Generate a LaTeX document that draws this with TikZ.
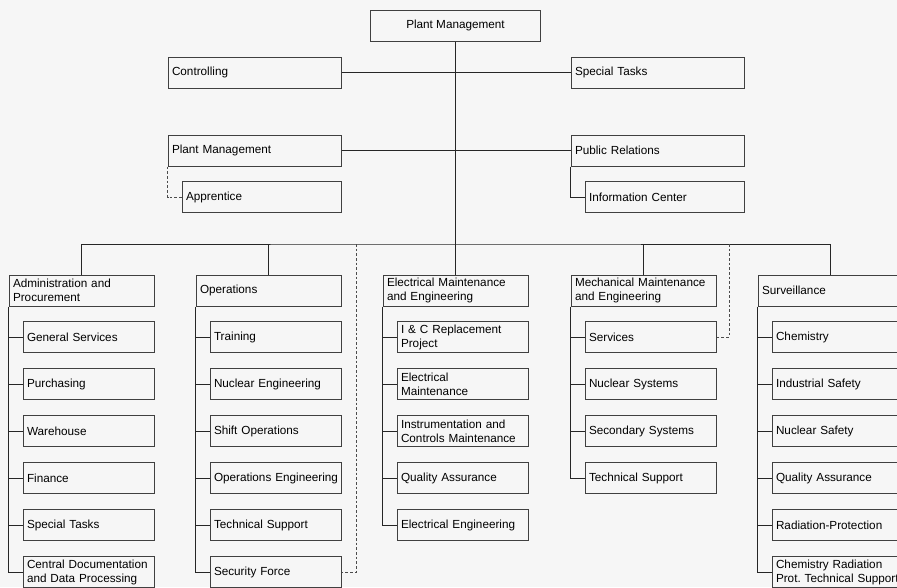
\documentclass[tikz,border=0pt]{standalone}
\usepackage{fontspec}
\setsansfont{Liberation Sans}
\definecolor{boxline}{RGB}{64,64,64}
\definecolor{canvas}{RGB}{246,246,246}

\begin{document}
\begin{tikzpicture}[x=0.75pt,y=-0.75pt,
  font=\sffamily\fontsize{8.8}{10.5}\selectfont,
  bx/.style={draw=boxline,fill=canvas,line width=0.75pt,minimum height=23.25pt,
             inner xsep=3pt,inner ysep=0pt,align=left},
  sd/.style={bx,text width=123.75pt},
  sb/.style={bx,text width=113.25pt},
  hd/.style={bx,text width=102.75pt},
  ch/.style={bx,text width=92.25pt},
  ln/.style={line width=0.75pt,draw=black!85},
  dl/.style={ln,draw=black!70,dash pattern=on 2pt off 1.5pt}]

\fill[canvas] (0,0) rectangle (897,587);
\useasboundingbox (0,0) rectangle (897,587);

% top level
\node[bx,minimum width=127.5pt,align=center] (top) at (455.5,25.5) {Plant Management};
\node[sd] (ctrl) at (254.5,72.5) {Controlling};
\node[sd] (spec) at (657.5,72.5) {Special Tasks};
\node[sd] (pm) at (254.5,150.5) {Plant Management};
\node[sd] (pr) at (657.5,150.5) {Public Relations};
\node[sb] (appr) at (261.5,197) {Apprentice};
\node[sb] (info) at (664.5,197) {Information Center};

% departments
\node[hd] (adm) at (81.5,290.5) {Administration and\\Procurement};
\node[hd] (ops) at (268.5,290.5) {Operations};
\node[hd] (ele) at (455.5,290.5) {Electrical Maintenance\\and Engineering};
\node[hd] (mec) at (643.5,290.5) {\mbox{Mechanical Maintenance}\\and Engineering};
\node[hd] (sur) at (830.5,290.5) {Surveillance};

\node[ch] (adm1) at (88.5,337) {General Services};
\node[ch] (adm2) at (88.5,384) {Purchasing};
\node[ch] (adm3) at (88.5,431) {Warehouse};
\node[ch] (adm4) at (88.5,478) {Finance};
\node[ch] (adm5) at (88.5,525) {Special Tasks};
\node[ch] (adm6) at (88.5,572) {\mbox{Central Documentation}\\and Data Processing};

\node[ch] (ops1) at (275.5,337) {Training};
\node[ch] (ops2) at (275.5,384) {Nuclear Engineering};
\node[ch] (ops3) at (275.5,431) {Shift Operations};
\node[ch] (ops4) at (275.5,478) {\mbox{Operations Engineering}};
\node[ch] (ops5) at (275.5,525) {Technical Support};
\node[ch] (ops6) at (275.5,572) {Security Force};

\node[ch] (ele1) at (462.5,337) {I \& C Replacement\\Project};
\node[ch] (ele2) at (462.5,384) {Electrical\\Maintenance};
\node[ch] (ele3) at (462.5,431) {Instrumentation and\\Controls Maintenance};
\node[ch] (ele4) at (462.5,478) {Quality Assurance};
\node[ch] (ele5) at (462.5,525) {Electrical Engineering};

\node[ch] (mec1) at (650.5,337) {Services};
\node[ch] (mec2) at (650.5,384) {Nuclear Systems};
\node[ch] (mec3) at (650.5,431) {Secondary Systems};
\node[ch] (mec4) at (650.5,478) {Technical Support};

\node[ch] (sur1) at (837.5,337) {Chemistry};
\node[ch] (sur2) at (837.5,384) {Industrial Safety};
\node[ch] (sur3) at (837.5,431) {Nuclear Safety};
\node[ch] (sur4) at (837.5,478) {Quality Assurance};
\node[ch] (sur5) at (837.5,525) {Radiation-Protection};
\node[ch] (sur6) at (837.5,572) {Chemistry Radiation\\\mbox{Prot.\ Technical Support}};

\coordinate (bus) at (455.5,244);
\coordinate (dops) at (356,244);
\coordinate (dmec) at (729,244);

% connectors
\draw[ln] (top.south) -- (ele.north);
\draw[ln] (ctrl.east) -- (spec.west);
\draw[ln] (pm.east) -- (pr.west);
\draw[ln] (pr.south west) |- (info.west);
\draw[dl] (pm.south west) |- (appr.west);
\draw[ln] (adm.north) |- (bus) -| (sur.north);
\draw[ln] (ops.north) -- (ops.north |- bus);
\draw[ln] (mec.north) -- (mec.north |- bus);
\draw[dl] (dops) |- (ops6.east);
\draw[dl] (dmec) |- (mec1.east);

\draw[ln] (adm.south west) |- (adm1.west) (adm.south west) |- (adm2.west)
  (adm.south west) |- (adm3.west) (adm.south west) |- (adm4.west)
  (adm.south west) |- (adm5.west) (adm.south west) |- (adm6.west);
\draw[ln] (ops.south west) |- (ops1.west) (ops.south west) |- (ops2.west)
  (ops.south west) |- (ops3.west) (ops.south west) |- (ops4.west)
  (ops.south west) |- (ops5.west) (ops.south west) |- (ops6.west);
\draw[ln] (ele.south west) |- (ele1.west) (ele.south west) |- (ele2.west)
  (ele.south west) |- (ele3.west) (ele.south west) |- (ele4.west)
  (ele.south west) |- (ele5.west);
\draw[ln] (mec.south west) |- (mec1.west) (mec.south west) |- (mec2.west)
  (mec.south west) |- (mec3.west) (mec.south west) |- (mec4.west);
\draw[ln] (sur.south west) |- (sur1.west) (sur.south west) |- (sur2.west)
  (sur.south west) |- (sur3.west) (sur.south west) |- (sur4.west)
  (sur.south west) |- (sur5.west) (sur.south west) |- (sur6.west);
\end{tikzpicture}
\end{document}
